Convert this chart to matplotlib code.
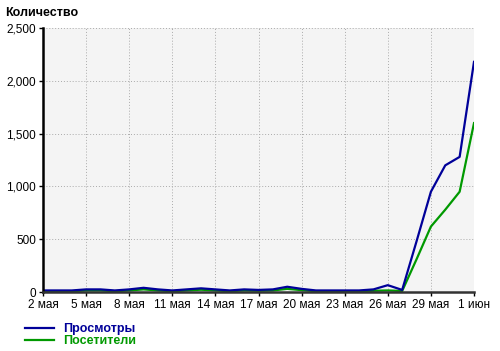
import numpy as np
import matplotlib.pyplot as plt
from matplotlib.ticker import FuncFormatter, MultipleLocator

plt.rcParams['font.family'] = ['Liberation Sans', 'DejaVu Sans']

# дни со 2 мая по 1 июня
days = np.arange(31)
views = [15, 15, 15, 25, 25, 15, 25, 40, 25, 15, 25, 35, 25, 15, 25, 20,
         25, 50, 30, 15, 15, 15, 15, 25, 65, 20, 480, 950, 1200, 1280, 2180]
visitors = [8, 8, 8, 15, 15, 8, 15, 25, 15, 8, 15, 22, 15, 8, 15, 12,
            15, 30, 18, 8, 8, 8, 8, 12, 15, 10, 310, 620, 780, 950, 1600]
tick_pos = [0, 3, 6, 9, 12, 15, 18, 21, 24, 27, 30]
tick_labels = ['2 мая', '5 мая', '8 мая', '11 мая', '14 мая', '17 мая',
               '20 мая', '23 мая', '26 мая', '29 мая', '1 июн']

fig = plt.figure(figsize=(5, 3.51), dpi=100)
ax = fig.add_axes([0.086, 0.168, 0.862, 0.752])
ax.set_facecolor('#f4f4f4')

ax.plot(days, visitors, color='#009900', linewidth=1.6, label='Посетители')
ax.plot(days, views, color='#000099', linewidth=1.6, label='Просмотры')

ax.set_xlim(0, 30)
ax.set_ylim(0, 2500)
ax.set_xticks(tick_pos)
ax.set_xticklabels(tick_labels)
ax.yaxis.set_major_locator(MultipleLocator(500))
ax.yaxis.set_major_formatter(FuncFormatter(lambda v, p: '{:,}'.format(int(v))))
ax.tick_params(labelsize=8.5, length=3, width=1, color='black', pad=2)

ax.grid(True, color='#aaaaaa', linestyle=(0, (1, 2)), linewidth=0.7)
ax.set_axisbelow(True)
for s in ['top', 'right']:
    ax.spines[s].set_visible(False)
ax.spines['left'].set_linewidth(1.8)
ax.spines['bottom'].set_linewidth(1.8)
ax.spines['bottom'].set_color('#333333')

fig.text(0.01, 0.962, 'Количество', fontsize=9, fontweight='bold', va='center')

h, l = ax.get_legend_handles_labels()
leg = ax.legend(h[::-1], l[::-1], loc='upper left', bbox_to_anchor=(0.05, 0.079),
                bbox_transform=fig.transFigure, frameon=False,
                handlelength=2.3, handletextpad=0.75, labelspacing=0.0,
                borderpad=0, borderaxespad=0, labelcolor=['#000099', '#009900'],
                prop={'weight': 'bold', 'size': 9})

fig.savefig('out.png', dpi=100)
